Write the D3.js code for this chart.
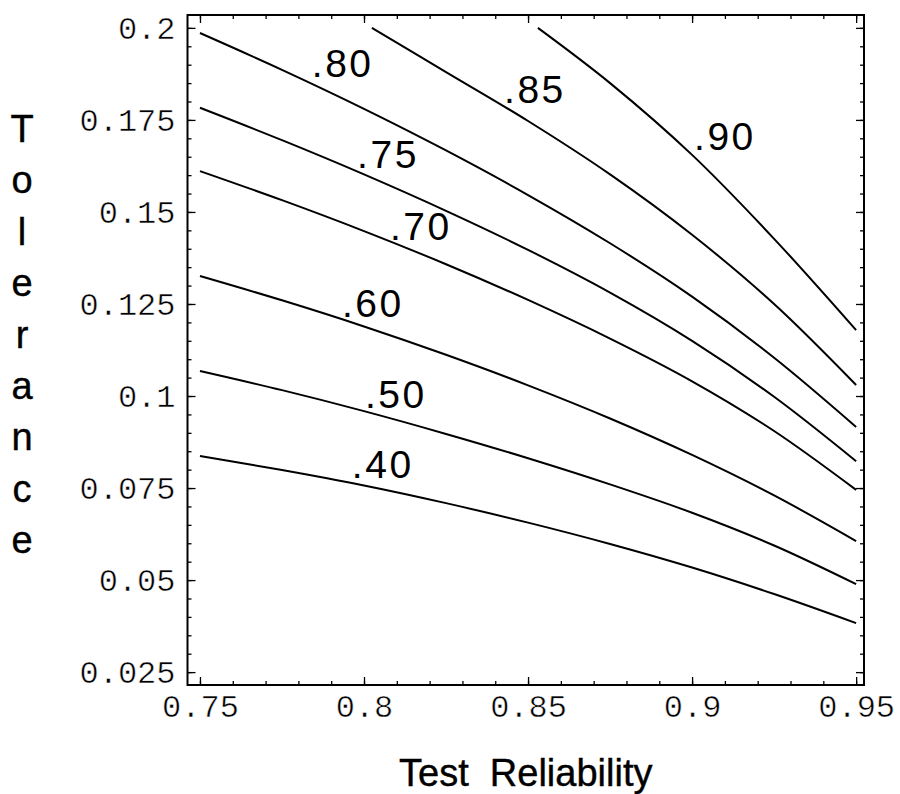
<!DOCTYPE html>
<html>
<head>
<meta charset="utf-8">
<script src="https://cdn.jsdelivr.net/npm/d3@7"></script>
<style>
  html, body { margin: 0; padding: 0; background: #fff; }
  svg { display: block; }
</style>
</head>
<body>
<svg id="chart" width="900" height="794"></svg>
<script>
// ---------- data ----------
const reliability = [0.75, 0.775, 0.80, 0.825, 0.85, 0.875, 0.90, 0.925, 0.95];
const tol40 = [0.0837, 0.0799, 0.0757, 0.0709, 0.0656, 0.0598, 0.0534, 0.0462, 0.0383];
const tol50 = [0.1068, 0.1016, 0.0959, 0.0897, 0.0831, 0.0760, 0.0683, 0.0594, 0.0489];
const tol60 = [0.1326, 0.1260, 0.1189, 0.1112, 0.1029, 0.0939, 0.0840, 0.0730, 0.0606];
const tol70 = [0.1611, 0.1532, 0.1448, 0.1358, 0.1261, 0.1156, 0.1040, 0.0905, 0.0745];
const tol75 = [0.1783, 0.1695, 0.1602, 0.1503, 0.1397, 0.1281, 0.1150, 0.0998, 0.0823];
const tol80 = [0.1986, 0.1886, 0.1780, 0.1667, 0.1546, 0.1415, 0.1270, 0.1104, 0.0916];
const reliability85 = [0.8024, 0.825, 0.85, 0.875, 0.90, 0.925, 0.95];
const tol85 = [0.2000, 0.1880, 0.1747, 0.1602, 0.1438, 0.1250, 0.1030];
const reliability90 = [0.853, 0.875, 0.90, 0.925, 0.95];
const tol90 = [0.2000, 0.1850, 0.1655, 0.1427, 0.1179];

const contourLabels = [".40", ".50", ".60", ".70", ".75", ".80", ".85", ".90"];
const labelX = [0.7963, 0.8003, 0.7933, 0.8079, 0.7979, 0.7841, 0.8427, 0.9006];
const labelY = [0.0777, 0.0967, 0.1215, 0.1424, 0.1620, 0.1867, 0.1796, 0.1668];

const xTicks = [0.75, 0.80, 0.85, 0.90, 0.95];
const xTickLabels = ["0.75", "0.8", "0.85", "0.9", "0.95"];
const yTicks = [0.025, 0.05, 0.075, 0.1, 0.125, 0.15, 0.175, 0.2];
const yTickLabels = ["0.025", "0.05", "0.075", "0.1", "0.125", "0.15", "0.175", "0.2"];
const xLabel = "Test  Reliability";
const yLabel = "Tolerance";

// ---------- build series ----------
const series = [
  {xs: reliability, ys: tol40},
  {xs: reliability, ys: tol50},
  {xs: reliability, ys: tol60},
  {xs: reliability, ys: tol70},
  {xs: reliability, ys: tol75},
  {xs: reliability, ys: tol80},
  {xs: reliability85, ys: tol85},
  {xs: reliability90, ys: tol90}
].map(s => s.xs.map((v, i) => [v, s.ys[i]]));

// ---------- layout ----------
const svg = d3.select("#chart");
const pL = 187.5, pR = 864, pT = 15, pB = 685;

const x = d3.scaleLinear().domain([0.7462, 0.9524]).range([pL, pR]);
const y = d3.scaleLinear().domain([0.0215, 0.2035]).range([pB, pT]);

const minorX = d3.range(75, 96).map(v => v / 100);
const minorY = d3.range(5, 41).map(v => v * 0.005).filter(v => v >= 0.0249 && v <= 0.2001);

const tickFont = "'Liberation Mono', 'Courier New', monospace";

function styleAxis(g) {
  g.select(".domain").remove();
  g.selectAll(".tick line").attr("stroke", "#000").attr("stroke-width", 1.3);
}
function styleTickText(g) {
  g.selectAll("text")
    .attr("font-family", tickFont).attr("font-size", 32).attr("fill", "#000")
    .attr("stroke", "#fff").attr("stroke-width", 0.5);
}

// bottom
svg.append("g").attr("transform", `translate(0,${pB})`)
  .call(d3.axisBottom(x).tickValues(minorX).tickSize(-4).tickFormat(""))
  .call(styleAxis);
svg.append("g").attr("transform", `translate(0,${pB})`)
  .call(d3.axisBottom(x).tickValues(xTicks).tickSize(-8).tickPadding(9)
    .tickFormat((d, i) => xTickLabels[i]))
  .call(styleAxis)
  .call(styleTickText);
// top
svg.append("g").attr("transform", `translate(0,${pT})`)
  .call(d3.axisTop(x).tickValues(minorX).tickSize(-4).tickFormat(""))
  .call(styleAxis);
svg.append("g").attr("transform", `translate(0,${pT})`)
  .call(d3.axisTop(x).tickValues(xTicks).tickSize(-8).tickFormat(""))
  .call(styleAxis);
// left
svg.append("g").attr("transform", `translate(${pL},0)`)
  .call(d3.axisLeft(y).tickValues(minorY).tickSize(-4).tickFormat(""))
  .call(styleAxis);
svg.append("g").attr("transform", `translate(${pL},0)`)
  .call(d3.axisLeft(y).tickValues(yTicks).tickSize(-8).tickPadding(12)
    .tickFormat((d, i) => yTickLabels[i]))
  .call(styleAxis)
  .call(styleTickText);
// right
svg.append("g").attr("transform", `translate(${pR},0)`)
  .call(d3.axisRight(y).tickValues(minorY).tickSize(-4).tickFormat(""))
  .call(styleAxis);
svg.append("g").attr("transform", `translate(${pR},0)`)
  .call(d3.axisRight(y).tickValues(yTicks).tickSize(-8).tickFormat(""))
  .call(styleAxis);

// frame
svg.append("rect")
  .attr("x", pL).attr("y", pT)
  .attr("width", pR - pL).attr("height", pB - pT)
  .attr("fill", "none").attr("stroke", "#000").attr("stroke-width", 2);

// contour lines
const line = d3.line().x(d => x(d[0])).y(d => y(d[1])).curve(d3.curveCatmullRom.alpha(0.5));
svg.append("g").selectAll("path").data(series).join("path")
  .attr("d", line)
  .attr("fill", "none").attr("stroke", "#000").attr("stroke-width", 2);

// contour labels
svg.append("g").selectAll("text").data(contourLabels).join("text")
  .attr("x", (d, i) => x(labelX[i]))
  .attr("y", (d, i) => y(labelY[i]))
  .attr("font-family", "'Liberation Sans', Arial, sans-serif")
  .attr("font-size", 39)
  .attr("letter-spacing", 2.5)
  .attr("fill", "#000")
  .text(d => d);

// axis titles
svg.append("text")
  .attr("x", (pL + pR) / 2)
  .attr("y", 786)
  .attr("text-anchor", "middle")
  .attr("font-family", "'Liberation Sans', Arial, sans-serif")
  .attr("font-size", 38)
  .attr("fill", "#000")
  .attr("stroke", "#000").attr("stroke-width", 0.4)
  .style("white-space", "pre")
  .text(xLabel);

svg.append("g").selectAll("text").data(yLabel.split("")).join("text")
  .attr("x", 22)
  .attr("y", (d, i) => 142 + i * 51.4)
  .attr("text-anchor", "middle")
  .attr("font-family", "'Liberation Sans', Arial, sans-serif")
  .attr("font-size", 38)
  .attr("fill", "#000")
  .attr("stroke", "#000").attr("stroke-width", 0.4)
  .text(d => d);
</script>
</body>
</html>
